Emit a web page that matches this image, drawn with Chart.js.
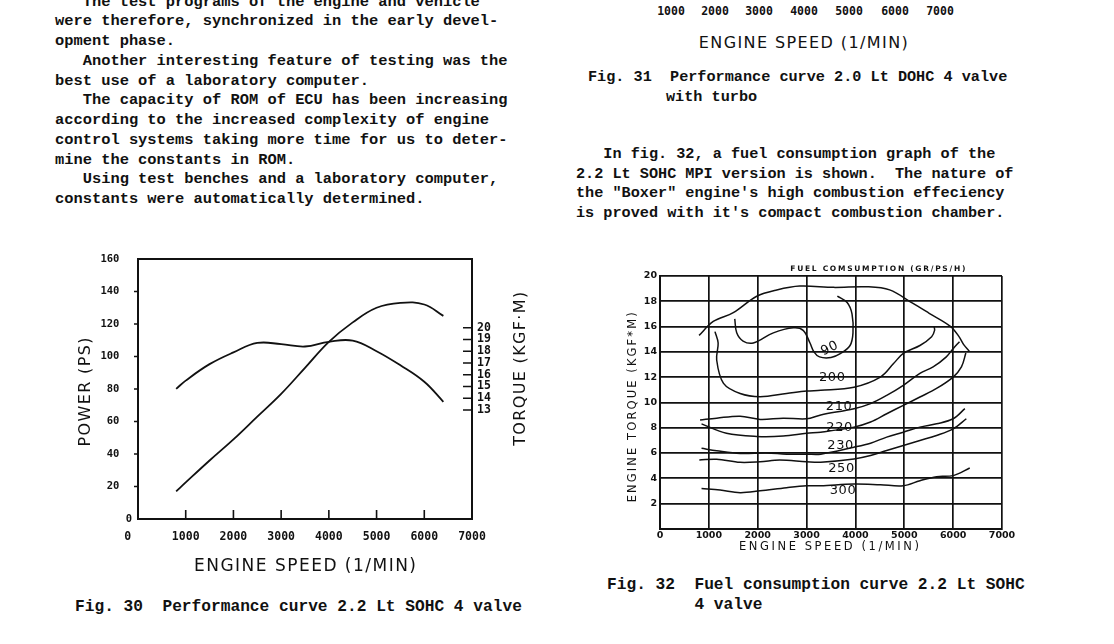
<!DOCTYPE html>
<html>
<head>
<meta charset="utf-8">
<script src="https://cdn.jsdelivr.net/npm/chart.js@4.4.1/dist/chart.umd.min.js"></script>
<style>
  html, body { margin: 0; padding: 0; background: #fff; }
  body { width: 1114px; height: 644px; position: relative; overflow: hidden; color: #111; }
  .mono { position: absolute; margin: 0; font-family: 'Liberation Mono', 'Courier New', monospace; font-weight: bold; white-space: pre; }
  .plotter { position: absolute; font-family: 'DejaVu Sans', sans-serif; white-space: pre; transform: translate(-50%, -50%); }
  .tick { position: absolute; font-family: 'DejaVu Sans Mono', monospace; font-weight: bold; font-size: 11.5px; transform: translate(-50%, -50%); }
  canvas { position: absolute; }
</style>
</head>
<body>

<pre class="mono" style="left:55px; top:-7.3px; font-size:15.4px; line-height:19.75px;">   The test programs of the engine and vehicle
were therefore, synchronized in the early devel-
opment phase.
   Another interesting feature of testing was the
best use of a laboratory computer.
   The capacity of ROM of ECU has been increasing
according to the increased complexity of engine
control systems taking more time for us to deter-
mine the constants in ROM.
   Using test benches and a laboratory computer,
constants were automatically determined.</pre>

<!-- bottom of Fig. 31 (chart itself is above the page) -->
<span class="tick" style="left:671px; top:11px;">1000</span>
<span class="tick" style="left:715px; top:11px;">2000</span>
<span class="tick" style="left:759px; top:11px;">3000</span>
<span class="tick" style="left:804px; top:11px;">4000</span>
<span class="tick" style="left:849px; top:11px;">5000</span>
<span class="tick" style="left:895px; top:11px;">6000</span>
<span class="tick" style="left:940px; top:11px;">7000</span>
<span class="plotter" style="left:804px; top:42px; font-size:16px; letter-spacing:1.4px;">ENGINE SPEED (1/MIN)</span>

<pre class="mono" style="left:588px; top:67.5px; font-size:15.2px; line-height:19.75px;">Fig. 31  Performance curve 2.0 Lt DOHC 4 valve</pre>
<pre class="mono" style="left:666px; top:88px; font-size:15.2px; line-height:19.75px;">with turbo</pre>

<pre class="mono" style="left:576px; top:145.3px; font-size:15.2px; line-height:19.5px;">   In fig. 32, a fuel consumption graph of the
2.2 Lt SOHC MPI version is shown.  The nature of
the "Boxer" engine's high combustion effeciency
is proved with it's compact combustion chamber.</pre>

<canvas id="fig30" width="490" height="350" style="left:60px; top:240px;"></canvas>
<canvas id="fig32" width="425" height="300" style="left:595px; top:258px;"></canvas>

<pre class="mono" style="left:75px; top:597px; font-size:16.2px; line-height:20px;">Fig. 30  Performance curve 2.2 Lt SOHC 4 valve</pre>
<pre class="mono" style="left:607px; top:575px; font-size:16.2px; line-height:20px;">Fig. 32  Fuel consumption curve 2.2 Lt SOHC
         4 valve</pre>

<script>
// ---- Fig. 30 : performance curve ----
const rpm30 = [800, 1000, 1500, 2000, 2500, 3000, 3500, 4000, 4500, 5000, 5500, 6000, 6400];
const powerPs = [17, 22.5, 36, 49, 63, 77, 93, 109, 121, 130, 133, 132, 125];
const torqueKgfm = [14.8, 15.5, 16.9, 17.9, 18.7, 18.6, 18.4, 18.8, 18.9, 18.0, 16.8, 15.4, 13.7];
const torqueTicks = [13, 14, 15, 16, 17, 18, 19, 20];

// ---- Fig. 32 : fuel consumption map, [rpm, torque kgf*m] ----
const fullLoad = [[800, 15.3], [1090, 16.4], [1500, 17.1], [1980, 18.4], [2390, 18.9], [2860, 19.2], [3560, 19.1], [4240, 19.15], [4700, 18.9], [5170, 17.85], [5510, 17.05], [5950, 16.0], [6120, 15.2], [6220, 14.55], [6330, 14.05]];
const bsfc190 = [[1530, 16.6], [1570, 15.5], [1700, 14.85], [1910, 14.7], [2320, 15.5], [2730, 15.9], [2930, 15.7], [3070, 14.7], [3150, 14.0], [3265, 13.6], [3500, 13.55], [3690, 13.85], [3890, 14.5], [3950, 15.5], [3930, 17.0], [3830, 17.9], [3630, 18.4]];
const bsfc200 = [[1125, 15.6], [1190, 14.7], [1160, 13.35], [1300, 11.5], [1640, 10.7], [2050, 10.45], [2590, 10.7], [3000, 10.9], [3290, 10.95], [3970, 11.2], [4510, 12.0], [4780, 13.07], [4980, 13.87], [5320, 14.5], [5560, 15.2], [5620, 15.7], [5610, 16.0]];
const bsfc210 = [[820, 8.6], [1160, 8.75], [1640, 8.9], [2050, 8.65], [2520, 8.75], [3000, 8.7], [3290, 9.0], [3970, 9.5], [4310, 9.9], [4640, 10.55], [4980, 11.35], [5320, 12.3], [5590, 12.8], [5860, 13.6], [6000, 14.25], [6130, 14.8]];
const bsfc220 = [[850, 8.3], [1360, 7.55], [1980, 7.3], [2520, 7.33], [3000, 7.55], [3290, 7.64], [3970, 8.04], [4310, 8.44], [4640, 9.1], [4980, 9.76], [5320, 10.42], [5660, 11.1], [6000, 12.0], [6170, 12.8], [6260, 13.9]];
const bsfc230 = [[850, 6.36], [1160, 6.17], [1640, 5.96], [2180, 6.0], [2590, 5.9], [3000, 5.9], [3290, 5.9], [3970, 6.45], [4310, 6.77], [4640, 7.25], [4980, 7.64], [5320, 8.04], [5660, 8.3], [6000, 8.7], [6240, 9.5]];
const bsfc250 = [[805, 5.44], [1160, 5.5], [1640, 5.25], [2050, 5.3], [2450, 5.44], [3000, 5.3], [3290, 5.26], [3970, 5.52], [4310, 5.79], [4640, 6.19], [4980, 6.58], [5320, 6.98], [5660, 7.38], [6000, 7.9], [6270, 8.7]];
const bsfc300 = [[850, 3.19], [1230, 3.06], [1640, 2.85], [2050, 3.0], [2590, 3.25], [3000, 3.4], [3290, 3.4], [3970, 3.54], [4510, 3.48], [4980, 3.4], [5320, 3.8], [5660, 4.12], [6000, 4.2], [6340, 4.8]];
const contourLabels = ['90', '200', '210', '220', '230', '250', '300'];
const labelRpm = [3470, 3520, 3660, 3670, 3690, 3710, 3740];
const labelTorque = [14.25, 11.93, 9.7, 8.0, 6.55, 4.75, 2.98];

const INK = '#111';

// text with its letters spread to a given width (plotter lettering)
function spacedText(ctx, text, cx, cy, width, font, angle) {
    ctx.save();
    ctx.font = font;
    ctx.fillStyle = INK;
    ctx.textBaseline = 'middle';
    ctx.textAlign = 'left';
    ctx.translate(cx, cy);
    ctx.rotate(angle || 0);
    const chars = [...text];
    const ws = chars.map(ch => ctx.measureText(ch).width);
    const raw = ws.reduce((a, b) => a + b, 0);
    const gap = chars.length > 1 ? (width - raw) / (chars.length - 1) : 0;
    let x = -width / 2;
    chars.forEach((ch, i) => { ctx.fillText(ch, x, 0); x += ws[i] + gap; });
    ctx.restore();
}

const noGrid = { display: false, drawTicks: false };

// frame, short tick marks and axis titles of fig. 30
const fig30Deco = {
    id: 'fig30Deco',
    afterDatasetsDraw(chart) {
        const { ctx, chartArea: a, scales } = chart;
        ctx.save();
        ctx.strokeStyle = INK;
        ctx.lineWidth = 2;
        ctx.strokeRect(a.left, a.top, a.right - a.left, a.bottom - a.top);
        ctx.lineWidth = 1.6;
        ctx.beginPath();
        [1000, 2000, 3000, 4000, 5000, 6000].forEach(v => {
            const x = scales.x.getPixelForValue(v);
            ctx.moveTo(x, a.bottom); ctx.lineTo(x, a.bottom - 9);
        });
        [20, 40, 60, 80, 100, 120, 140].forEach(v => {
            const y = scales.y.getPixelForValue(v);
            ctx.moveTo(a.left, y); ctx.lineTo(a.left - 4, y);
        });
        torqueTicks.forEach(v => {
            const y = scales.y1.getPixelForValue(v);
            ctx.moveTo(a.right, y); ctx.lineTo(a.right - 9, y);
        });
        ctx.stroke();
        ctx.restore();

        const f = "16px 'DejaVu Sans'";
        spacedText(ctx, 'ENGINE SPEED (1/MIN)', (a.left + a.right) / 2, a.bottom + 48, 222, "17px 'DejaVu Sans'");
        spacedText(ctx, 'POWER (PS)', a.left - 52, (a.top + a.bottom) / 2 + 3, 109, f, -Math.PI / 2);
        spacedText(ctx, 'TORQUE (KGF·M)', a.right + 49, scales.y1.getPixelForValue(16.5), 154, f, -Math.PI / 2);
    }
};

new Chart(document.getElementById('fig30'), {
    type: 'line',
    data: {
        datasets: [{
            data: rpm30.map((x, i) => ({ x: x, y: powerPs[i] })),
            yAxisID: 'y',
            borderColor: INK,
            borderWidth: 1.8,
            pointRadius: 0,
            tension: 0.4,
            fill: false
        }, {
            data: rpm30.map((x, i) => ({ x: x, y: torqueKgfm[i] })),
            yAxisID: 'y1',
            borderColor: INK,
            borderWidth: 1.8,
            pointRadius: 0,
            tension: 0.4,
            fill: false
        }]
    },
    options: {
        responsive: false,
        animation: false,
        layout: { padding: { top: 19, left: 0, right: 0, bottom: 0 } },
        plugins: { legend: { display: false }, tooltip: { enabled: false } },
        scales: {
            x: {
                type: 'linear', min: 0, max: 7000,
                grid: noGrid, border: { display: false },
                ticks: {
                    stepSize: 1000, padding: 11.5, color: INK, maxRotation: 0, autoSkip: false,
                    font: { family: 'DejaVu Sans Mono', weight: 'bold', size: 11.5 },
                    callback: v => v === 0 ? '0   ' : String(v)
                },
                afterFit: s => { s.height = 71; }
            },
            y: {
                min: 0, max: 160,
                grid: noGrid, border: { display: false },
                ticks: {
                    stepSize: 20, padding: 6, color: INK,
                    font: { family: 'DejaVu Sans Mono', weight: 'bold', size: 10.5 },
                    callback: v => v === 0 ? '0' : v + '  '
                },
                afterFit: s => { s.width = 78; }
            },
            y1: {
                position: 'right', min: 3.729, max: 25.843,
                grid: noGrid, border: { display: false },
                afterBuildTicks: s => { s.ticks = torqueTicks.map(v => ({ value: v })); },
                ticks: {
                    padding: 5, color: INK,
                    font: { family: 'DejaVu Sans Mono', weight: 'bold', size: 11.5 }
                },
                afterFit: s => { s.width = 78; }
            }
        }
    },
    plugins: [fig30Deco]
});

// contour labels and titles of fig. 32
const fig32Deco = {
    id: 'fig32Deco',
    afterDatasetsDraw(chart) {
        const { ctx, chartArea: a, scales } = chart;
        contourLabels.forEach((t, i) => {
            const x = scales.x.getPixelForValue(labelRpm[i]);
            const y = scales.y.getPixelForValue(labelTorque[i]);
            spacedText(ctx, t, x, y, t.length === 2 ? 17 : 26, "13px 'DejaVu Sans'", i === 0 ? -0.45 : 0);
        });
        spacedText(ctx, 'FUEL COMSUMPTION (GR/PS/H)', a.left + 0.637 * (a.right - a.left), a.top - 6.5, 175, "bold 7.5px 'DejaVu Sans'");
        spacedText(ctx, 'ENGINE SPEED (1/MIN)', (a.left + a.right) / 2 - 2, a.bottom + 18.5, 180, "11.5px 'DejaVu Sans'");
        spacedText(ctx, 'ENGINE TORQUE (KGF*M)', a.left - 27, (a.top + a.bottom) / 2 + 5, 190, "11.5px 'DejaVu Sans'", -Math.PI / 2);
    }
};

const contourSet = data => ({
    data: data.map(p => ({ x: p[0], y: p[1] })),
    showLine: true,
    borderColor: INK,
    borderWidth: 1.5,
    pointRadius: 0,
    tension: 0.35,
    fill: false
});

const ruled = { color: INK, lineWidth: 1.7, drawTicks: false };

new Chart(document.getElementById('fig32'), {
    type: 'scatter',
    data: {
        datasets: [fullLoad, bsfc190, bsfc200, bsfc210, bsfc220, bsfc230, bsfc250, bsfc300].map(contourSet)
    },
    options: {
        responsive: false,
        animation: false,
        layout: { padding: { top: 18, right: 18, left: 0, bottom: 0 } },
        plugins: { legend: { display: false }, tooltip: { enabled: false } },
        scales: {
            x: {
                type: 'linear', min: 0, max: 7000,
                grid: ruled, border: { color: INK, width: 2 },
                ticks: {
                    stepSize: 1000, padding: 1, color: INK, maxRotation: 0, autoSkip: false,
                    font: { family: 'DejaVu Sans', weight: 'bold', size: 9.5 },
                    callback: v => String(v)
                },
                afterFit: s => { s.height = 29.3; }
            },
            y: {
                min: 0, max: 20,
                grid: ruled, border: { color: INK, width: 2 },
                ticks: {
                    stepSize: 2, padding: 3, color: INK,
                    font: { family: 'DejaVu Sans', weight: 'bold', size: 9.5 },
                    callback: v => v === 0 ? '' : String(v)
                },
                afterFit: s => { s.width = 65; }
            }
        }
    },
    plugins: [fig32Deco]
});
</script>
</body>
</html>
